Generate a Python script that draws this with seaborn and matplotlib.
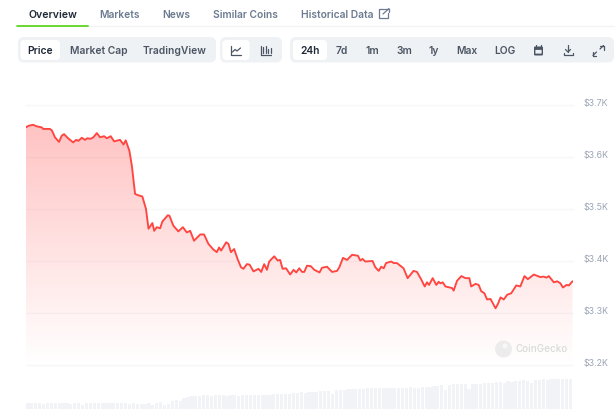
import numpy as np
import pandas as pd
import matplotlib
matplotlib.use("Agg")
import matplotlib.pyplot as plt
from matplotlib.patches import Circle, FancyBboxPatch
import seaborn as sns

# price history: hours since the start of the 24h window, USD
hours = [0.00, 0.11, 0.31, 0.47, 0.69, 0.75, 1.05, 1.14, 1.27, 1.45, 1.57, 1.67, 1.85, 2.07, 2.20, 2.30,
         2.45, 2.59, 2.69, 2.84, 2.96, 3.11, 3.25, 3.43, 3.55, 3.72, 3.87, 4.13, 4.28, 4.38, 4.54, 4.65,
         4.79, 4.89, 5.11, 5.27, 5.38, 5.55, 5.63, 5.74, 5.89, 5.99, 6.23, 6.30, 6.47, 6.69, 6.89, 7.06,
         7.21, 7.38, 7.65, 7.82, 8.01, 8.23, 8.38, 8.48, 8.57, 8.79, 8.89, 9.00, 9.14, 9.29, 9.44, 9.55,
         9.70, 9.82, 9.99, 10.21, 10.33, 10.46, 10.58, 10.68, 10.90, 11.05, 11.16, 11.27, 11.42, 11.60,
         11.75, 11.87, 12.00, 12.12, 12.22, 12.34, 12.51, 12.66, 12.89, 13.00, 13.22, 13.44, 13.66, 13.76,
         13.92, 14.10, 14.32, 14.58, 14.68, 14.78, 14.90, 15.22, 15.34, 15.49, 15.60, 15.71, 15.81, 16.04,
         16.15, 16.29, 16.58, 16.76, 17.02, 17.17, 17.35, 17.51, 17.61, 17.70, 17.86, 18.02, 18.12, 18.20,
         18.30, 18.42, 18.71, 18.78, 18.93, 19.12, 19.30, 19.47, 19.55, 19.74, 19.88, 19.99, 20.13, 20.25,
         20.40, 20.62, 20.72, 20.84, 20.98, 21.13, 21.31, 21.53, 21.71, 21.89, 22.04, 22.30, 22.59, 22.73,
         22.86, 22.96, 23.18, 23.33, 23.47, 23.58, 23.74, 23.84, 24.00]
prices = [3657, 3660, 3662, 3659, 3657, 3654, 3654, 3651, 3638, 3629, 3641, 3644, 3636, 3628, 3633, 3631,
          3637, 3633, 3636, 3635, 3638, 3646, 3638, 3640, 3636, 3640, 3630, 3633, 3624, 3632, 3612, 3583,
          3529, 3527, 3524, 3500, 3462, 3473, 3458, 3465, 3463, 3476, 3488, 3487, 3468, 3457, 3465, 3455,
          3458, 3439, 3451, 3451, 3433, 3422, 3417, 3426, 3420, 3436, 3433, 3417, 3423, 3404, 3388, 3385,
          3394, 3393, 3380, 3385, 3379, 3394, 3383, 3399, 3409, 3401, 3402, 3385, 3386, 3374,
          3383, 3378, 3386, 3379, 3379, 3391, 3390, 3383, 3378, 3387, 3389, 3379, 3381, 3388,
          3406, 3402, 3412, 3410, 3401, 3404, 3399, 3400, 3388, 3381, 3389, 3386, 3396, 3399,
          3396, 3396, 3386, 3367, 3381, 3379, 3365, 3351, 3359, 3354, 3367, 3354, 3360, 3357,
          3359, 3351, 3348, 3343, 3362, 3371, 3367, 3367, 3351, 3356, 3354, 3342, 3338, 3326,
          3327, 3309, 3317, 3330, 3326, 3335, 3338, 3353, 3351, 3371, 3365, 3374, 3369, 3370,
          3368, 3371, 3359, 3361, 3357, 3349, 3354, 3353, 3361]

# volume strip, relative heights
volumes = [6, 6, 6, 6, 5, 6, 6, 6, 6, 6, 6, 5, 6, 6, 4, 6, 6, 6, 6, 6, 6, 6, 6, 6, 6, 6, 5, 6, 5, 5,
           5, 6, 4, 6, 7, 4, 5, 8, 9, 8, 11, 12, 13, 13, 13, 14, 14, 13, 14, 14, 14, 13, 14, 14, 13, 14, 14, 14, 14, 14,
           14, 14, 14, 15, 15, 15, 15, 15, 16, 16, 17, 16, 17, 17, 17, 18, 18, 18, 15, 19, 19, 19, 20, 20, 20, 20, 20,
           21, 21, 21, 21, 21, 21, 21, 21, 21, 21, 21, 22, 21, 21, 22, 22, 22, 23, 23, 24, 19, 24, 25, 25, 25, 25, 20, 25, 25,
           25, 26, 26, 26, 27, 27, 26, 28, 27, 28, 28, 29, 28, 26, 29, 29, 30, 29, 30, 30, 30, 30, 30, 30]

price_ticks = [3200, 3300, 3400, 3500, 3600, 3700]
tick_labels = ["$3.2K", "$3.3K", "$3.4K", "$3.5K", "$3.6K", "$3.7K"]

tabs = ["Overview", "Markets", "News", "Similar Coins", "Historical Data"]
chart_types = ["Price", "Market Cap", "TradingView"]
ranges = ["24h", "7d", "1m", "3m", "1y", "Max", "LOG"]

W, H = 615, 410
sns.set_style("white")
plt.rcParams["font.family"] = ["Inter", "DejaVu Sans"]

fig = plt.figure(figsize=(W / 100, H / 100), dpi=100, facecolor="white")


def px_axes(left, top, right, bottom):
    return fig.add_axes([left / W, 1 - bottom / H, (right - left) / W, (bottom - top) / H])


# main price chart
ax = px_axes(26, 106, 572.5, 366)
df = pd.DataFrame({"hours": hours, "price": prices})
ax.set_xlim(0, 24)
ax.set_ylim(3200, 3700)
ax.set_facecolor("none")
for p in price_ticks:
    ax.axhline(p, color="#f6f7f9", lw=0.9, zorder=1, clip_on=False)

# vertical fade under the line
fill = ax.fill_between(df["hours"], df["price"], 3200, color="none", zorder=2)
shade = np.zeros((256, 2, 4))
shade[..., 0] = 1.0
shade[..., 1] = 0.26
shade[..., 2] = 0.26
shade[..., 3] = np.linspace(0.32, 0.0, 256)[:, None]
img = ax.imshow(shade, extent=(0, 24, 3200, 3665), origin="upper", aspect="auto", zorder=2)
img.set_clip_path(fill.get_paths()[0], ax.transData)

sns.lineplot(data=df, x="hours", y="price", color="#ff4540", lw=1.35, estimator=None, ax=ax, zorder=3)
ax.set_xlim(0, 24)
ax.set_ylim(3200, 3700)
ax.axis("off")

# volume bars
ax_vol = px_axes(26, 375, 572.5, 410)
sns.barplot(x=list(range(len(volumes))), y=volumes, color="#f1f3f7", width=0.82, saturation=1,
            linewidth=0, ax=ax_vol)
ax_vol.set_xlim(-0.5, len(volumes) - 0.5)
ax_vol.set_ylim(0, 35)
ax_vol.axis("off")

# page furniture drawn in pixel coordinates
ui = fig.add_axes([0, 0, 1, 1])
ui.set_xlim(0, W)
ui.set_ylim(H, 0)
ui.axis("off")
ui.patch.set_alpha(0)

DARK = "#1f2937"
GREY = "#4b5563"
SOFT = "#6b7a90"
PANEL = "#eff2f5"


def pill(x0, y0, x1, y1, color, r=5):
    ui.add_patch(FancyBboxPatch((x0 + r, y0 + r), x1 - x0 - 2 * r, y1 - y0 - 2 * r,
                                boxstyle=f"round,pad={r},rounding_size={r}", fc=color, ec="none"))


def strokes(segments, color=GREY, lw=0.9):
    for xs, ys in segments:
        ui.plot(xs, ys, color=color, lw=lw, solid_capstyle="round", solid_joinstyle="round")


# tabs
ui.plot([17, 615], [27, 27], color="#f1f3f6", lw=0.9)
ui.plot([17, 88], [27, 27], color="#5fd51f", lw=1.3)
tab_x = [52.5, 119, 176.5, 245.5, 337]
for i, (name, x) in enumerate(zip(tabs, tab_x)):
    ui.text(x, 14.5, name, ha="center", va="center", fontsize=7.6 if i == 0 else 7.35, fontweight="semibold",
            color=DARK if i == 0 else SOFT)
strokes([([384, 379, 379, 388, 388], [9.5, 9.5, 18.5, 18.5, 14]),
         ([383, 389], [15, 9.5]), ([385, 389, 389], [9.5, 9.5, 13])], color=SOFT, lw=0.9)

# button groups
pill(18, 38, 216, 63.5, PANEL, r=6)
pill(220, 38, 282, 63.5, PANEL, r=6)
pill(290, 38, 614, 63.5, PANEL, r=6)
pill(20.5, 41, 60, 61, "white", r=4)
pill(222.5, 41, 249.5, 61, "white", r=4)
pill(293, 41, 327, 61, "white", r=4)

for name, x in zip(chart_types, [40, 98.5, 175]):
    ui.text(x, 51.5, name, ha="center", va="center", fontsize=7.4, fontweight="semibold",
            color=DARK if name == "Price" else GREY)
for name, x in zip(ranges, [310, 342, 372, 404, 434, 466.5, 505]):
    ui.text(x, 51.5, name, ha="center", va="center", fontsize=7.4, fontweight="semibold",
            color=DARK if name == "24h" else GREY)

# line and candle icons
strokes([([231, 231, 241], [47, 55.5, 55.5]), ([232.5, 235, 237, 240.5], [53, 50.5, 52, 49])])
strokes([([261, 261, 271], [47, 55.5, 55.5]), ([263, 263], [47.5, 54]), ([265.5, 265.5], [47, 54]),
         ([268, 268], [49.5, 54]), ([270.5, 270.5], [49, 54])])
# calendar
pill(534, 47.5, 543, 56.5, GREY, r=1.2)
ui.add_patch(FancyBboxPatch((535.5, 51), 6, 3.5, boxstyle="round,pad=0.1", fc=PANEL, ec="none", zorder=3))
strokes([([536, 536], [46, 48]), ([541, 541], [46, 48])], lw=0.9)
# download
strokes([([568, 568], [46, 53]), ([565.5, 568, 570.5], [50.5, 53, 50.5]),
         ([563.5, 563.5, 572.5, 572.5], [53.5, 56, 56, 53.5])])
# expand
strokes([([593, 593, 596], [52.5, 56.5, 56.5]), ([593, 596.5], [56.5, 53]),
         ([599.5, 603.5, 603.5], [46.5, 46.5, 50.5]), ([600, 603.5], [50, 46.5])])

# price labels sit just above their gridlines
for p, label in zip(price_ticks, tick_labels):
    y = 366 - (p - 3200) / 500 * 260 - 2.8
    ui.text(584, y, label, ha="left", va="center", fontsize=6.4, color="#9aa5b5")

# watermark
ui.add_patch(Circle((503.5, 350), 8.5, fc="#e9e9e9", ec="none", alpha=0.8))
ui.add_patch(Circle((505, 347), 2.5, fc="#f7f7f7", ec="none"))
ui.text(516, 349.5, "CoinGecko", ha="left", va="center", fontsize=7.1, fontweight="medium", color="#d9dadb")

fig.savefig("out.png", dpi=100)
